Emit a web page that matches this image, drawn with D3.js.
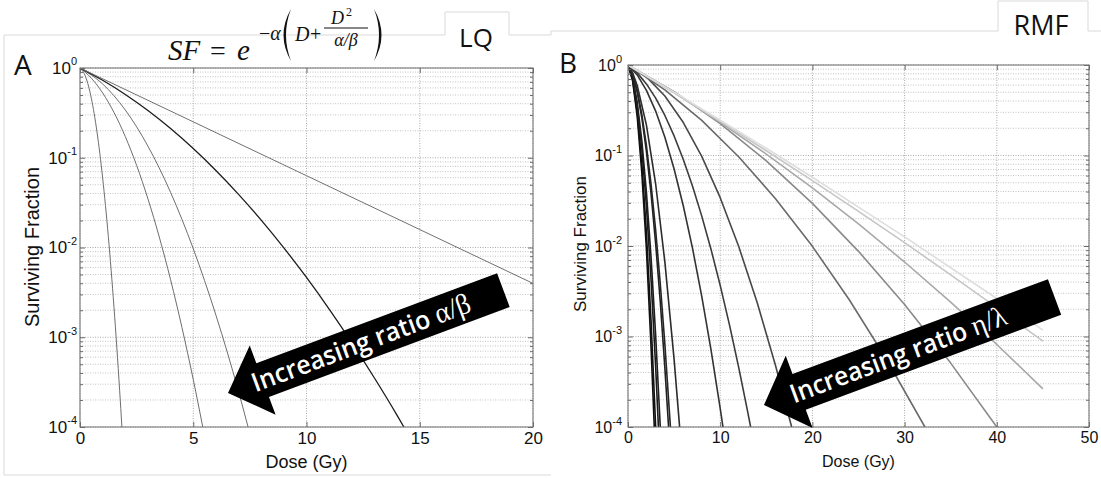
<!DOCTYPE html>
<html><head><meta charset="utf-8">
<script src="https://cdn.jsdelivr.net/npm/d3@7"></script>
<style>body{margin:0;background:#fff}svg{display:block}</style>
</head><body>
<svg id="c" width="1101" height="478"></svg>
<script>
// ---------- DATA (log10 of surviving fraction) ----------
const lqXTicks = [0, 5, 10, 15, 20];
const rmfXTicks = [0, 10, 20, 30, 40, 50];
const yTicks = [1e-4, 1e-3, 1e-2, 1e-1, 1];
const yTickExps = ['-4', '-3', '-2', '-1', '0'];

const lqDose1 = [0, 0.25, 0.5, 0.75, 1.0, 1.25, 1.5, 1.75, 1.85];
const lqLog1  = [0, -0.099, -0.337, -0.712, -1.225, -1.876, -2.664, -3.591, -4.0];
const lqDose2 = [0, 0.5, 1, 1.5, 2, 2.5, 3, 3.5, 4, 4.5, 5, 5.42];
const lqLog2  = [0, -0.113, -0.278, -0.495, -0.764, -1.085, -1.458, -1.883, -2.36, -2.89, -3.471, -4.0];
const lqDose3 = [0, 1, 2, 3, 4, 5, 6, 7, 7.42];
const lqLog3  = [0, -0.178, -0.468, -0.871, -1.386, -2.013, -2.753, -3.605, -4.0];
const lqDose4 = [0, 1, 2, 3, 4, 5, 6, 7, 8, 9, 10, 11, 12, 13, 14, 14.3];
const lqLog4  = [0, -0.137, -0.295, -0.474, -0.675, -0.898, -1.142, -1.408, -1.695, -2.004, -2.334, -2.686, -3.059, -3.454, -3.87, -4.0];
const lqDose5 = [0, 5, 10, 15, 20];
const lqLog5  = [0, -0.6, -1.2, -1.8, -2.4];

const rmfDose1 = [0, 0.5, 1, 1.5, 2, 2.5, 2.85];
const rmfLog1  = [0, -0.173, -0.570, -1.193, -2.042, -3.115, -4.0];
const rmfDose2 = [0, 0.5, 1, 1.5, 2, 2.5, 3];
const rmfLog2  = [0, -0.161, -0.524, -1.09, -1.858, -2.828, -4.0];
const rmfDose3 = [0, 0.5, 1, 1.5, 2, 2.5, 3, 3.3];
const rmfLog3  = [0, -0.143, -0.451, -0.925, -1.564, -2.369, -3.339, -4.0];
const rmfDose4 = [0, 0.5, 1, 1.5, 2, 2.5, 3, 3.5];
const rmfLog4  = [0, -0.133, -0.412, -0.837, -1.409, -2.126, -2.99, -4.0];
const rmfDose5 = [0, 0.5, 1, 1.5, 2, 2.5, 3, 3.5, 4, 4.4];
const rmfLog5  = [0, -0.105, -0.299, -0.583, -0.957, -1.421, -1.974, -2.616, -3.349, -4.0];
const rmfDose6 = [0, 0.5, 1, 1.5, 2, 2.5, 3, 3.5, 4, 4.6];
const rmfLog6  = [0, -0.101, -0.283, -0.547, -0.892, -1.319, -1.827, -2.417, -3.088, -4.0];
const rmfDose7 = [0, 0.5, 1, 2, 3, 4, 5, 5.6];
const rmfLog7  = [0, -0.087, -0.226, -0.664, -1.315, -2.178, -3.253, -4.0];
const rmfDose8 = [0, 1, 2, 3, 4, 5, 6, 7, 8, 9, 10, 10.3];
const rmfLog8  = [0, -0.11, -0.28, -0.509, -0.799, -1.149, -1.558, -2.027, -2.556, -3.145, -3.794, -4.0];
const rmfDose9 = [0, 1, 2, 3, 4, 5, 6, 7, 8, 9, 10, 11, 12, 13, 13.3];
const rmfLog9  = [0, -0.087, -0.209, -0.366, -0.558, -0.784, -1.045, -1.34, -1.67, -2.035, -2.435, -2.869, -3.338, -3.842, -4.0];
const rmfDose10 = [0, 2, 4, 6, 8, 10, 12, 14, 16, 17.75];
const rmfLog10  = [0, -0.131, -0.343, -0.636, -1.01, -1.466, -2.003, -2.621, -3.321, -4.0];
const rmfDose11 = [0, 4, 8, 12, 16, 20, 24, 28, 32.2];
const rmfLog11  = [0, -0.275, -0.612, -1.014, -1.477, -2.004, -2.594, -3.246, -4.0];
const rmfDose12 = [0, 5, 10, 15, 20, 25, 30, 35, 40];
const rmfLog12  = [0, -0.294, -0.647, -1.059, -1.529, -2.059, -2.646, -3.294, -4.0];
const rmfDose13 = [0, 5, 10, 15, 20, 25, 30, 35, 40, 45];
const rmfLog13  = [0, -0.305, -0.633, -0.984, -1.358, -1.756, -2.177, -2.621, -3.088, -3.579];
const rmfDose14 = [0, 5, 10, 15, 20, 25, 30, 35, 40, 45];
const rmfLog14  = [0, -0.308, -0.623, -0.947, -1.277, -1.617, -1.963, -2.319, -2.681, -3.052];
const rmfDose15 = [0, 5, 10, 15, 20, 25, 30, 35, 40, 45];
const rmfLog15  = [0, -0.30, -0.61, -0.92, -1.24, -1.57, -1.90, -2.24, -2.58, -2.93];

// ---------- STYLE ----------
const lqSeries = [
  {d: lqDose1, v: lqLog1, c: '#6e6e6e', w: 1},
  {d: lqDose2, v: lqLog2, c: '#6e6e6e', w: 1},
  {d: lqDose3, v: lqLog3, c: '#6e6e6e', w: 1},
  {d: lqDose4, v: lqLog4, c: '#1c1c1c', w: 1.3},
  {d: lqDose5, v: lqLog5, c: '#707070', w: 1}
];
const rmfSeries = [
  {d: rmfDose1, v: rmfLog1, c: '#111'}, {d: rmfDose2, v: rmfLog2, c: '#111'},
  {d: rmfDose3, v: rmfLog3, c: '#1a1a1a'}, {d: rmfDose4, v: rmfLog4, c: '#1e1e1e'},
  {d: rmfDose5, v: rmfLog5, c: '#222'}, {d: rmfDose6, v: rmfLog6, c: '#262626'},
  {d: rmfDose7, v: rmfLog7, c: '#2c2c2c'}, {d: rmfDose8, v: rmfLog8, c: '#333'},
  {d: rmfDose9, v: rmfLog9, c: '#3c3c3c'}, {d: rmfDose10, v: rmfLog10, c: '#474747'},
  {d: rmfDose11, v: rmfLog11, c: '#6a6a6a'}, {d: rmfDose12, v: rmfLog12, c: '#8a8a8a'},
  {d: rmfDose13, v: rmfLog13, c: '#a9a9a9'}, {d: rmfDose14, v: rmfLog14, c: '#c6c6c6'},
  {d: rmfDose15, v: rmfLog15, c: '#dedede'}
];

const svg = d3.select('#c');
const SANS = '"Liberation Sans", Arial, sans-serif';
const CAL = '"Open Sans", Lato, sans-serif';

// panel frames (light slide boxes)
svg.append('path')
  .attr('d', 'M4,475 L4,35 L445,35 L445,12 L509,12 L509,35 L551,35 L551,31 L998,31 L998,1 L1088,1 L1088,31 L1101,31')
  .attr('fill', 'none').attr('stroke', '#d9d9d9').attr('stroke-width', 1);
svg.append('line').attr('x1', 4).attr('x2', 551).attr('y1', 475).attr('y2', 475)
  .attr('stroke', '#d9d9d9');

const minorY = [];
for (let k = -4; k < 0; k++) for (let m = 2; m <= 9; m++) minorY.push(m * Math.pow(10, k));

function panel(o) {
  const x = d3.scaleLinear().domain(o.xDomain).range([o.x0, o.x1]);
  const y = d3.scaleLog().domain([1e-4, 1]).range([o.y1, o.y0]);
  const g = svg.append('g');
  const id = 'clip' + o.key;
  svg.append('clipPath').attr('id', id).append('rect')
    .attr('x', o.x0).attr('y', o.y0).attr('width', o.x1 - o.x0).attr('height', o.y1 - o.y0);

  // grid
  const grid = g.append('g').attr('fill', 'none');
  minorY.forEach(v => grid.append('line').attr('x1', o.x0).attr('x2', o.x1)
    .attr('y1', y(v)).attr('y2', y(v)).attr('stroke', '#c4c4c4').attr('stroke-dasharray', '1,1.5'));
  yTicks.forEach(v => grid.append('line').attr('x1', o.x0).attr('x2', o.x1)
    .attr('y1', y(v)).attr('y2', y(v)).attr('stroke', '#ababab').attr('stroke-dasharray', '1,1.5'));
  o.xTicks.forEach(v => grid.append('line').attr('x1', x(v)).attr('x2', x(v))
    .attr('y1', o.y0).attr('y2', o.y1).attr('stroke', '#ababab').attr('stroke-dasharray', '1,1.5'));

  // curves
  const line = d3.line().x(p => x(p[0])).y(p => y(Math.pow(10, p[1]))).curve(o.curve);
  const cg = g.append('g').attr('clip-path', `url(#${id})`);
  o.series.forEach(s => {
    const pts = s.d.map((d, i) => [d, s.v[i]]);
    cg.append('path').attr('d', line(pts)).attr('fill', 'none')
      .attr('stroke', s.c).attr('stroke-width', s.w || o.lw).attr('stroke-linejoin', 'round');
  });

  // axes with inward ticks (MATLAB style)
  const tickStyle = sel => { sel.select('.domain').remove(); sel.selectAll('.tick line').attr('stroke', '#6a6a6a'); };
  g.append('g').attr('transform', `translate(0,${o.y1})`)
    .call(d3.axisBottom(x).tickValues(o.xTicks).tickSize(-5).tickPadding(5).tickFormat(d3.format('d')))
    .call(tickStyle)
    .call(s => s.selectAll('text').attr('fill', '#111').style('font-family', SANS).style('font-size', o.tickFs + 'px'));
  g.append('g').attr('transform', `translate(0,${o.y0})`)
    .call(d3.axisTop(x).tickValues(o.xTicks).tickSize(-5).tickFormat('')).call(tickStyle);
  g.append('g').attr('transform', `translate(${o.x0},0)`)
    .call(d3.axisLeft(y).tickValues(yTicks).tickSize(-5).tickFormat('')).call(tickStyle);
  g.append('g').attr('transform', `translate(${o.x0},0)`)
    .call(d3.axisLeft(y).tickValues(minorY).tickSize(-3).tickFormat('')).call(tickStyle);
  g.append('g').attr('transform', `translate(${o.x1},0)`)
    .call(d3.axisRight(y).tickValues(yTicks).tickSize(-5).tickFormat('')).call(tickStyle);
  g.append('g').attr('transform', `translate(${o.x1},0)`)
    .call(d3.axisRight(y).tickValues(minorY).tickSize(-3).tickFormat('')).call(tickStyle);

  g.append('rect').attr('x', o.x0).attr('y', o.y0).attr('width', o.x1 - o.x0).attr('height', o.y1 - o.y0)
    .attr('fill', 'none').attr('stroke', '#6f6f6f').attr('stroke-width', 1);

  // y tick labels 10^k
  yTicks.forEach((v, i) => {
    const t = g.append('text').attr('x', o.yLabelX).attr('y', y(v)).attr('dy', '0.35em')
      .attr('text-anchor', 'end').attr('fill', '#111')
      .style('font-family', SANS).style('font-size', o.tickFs + 'px');
    t.append('tspan').text('10');
    t.append('tspan').attr('dy', -0.5 * o.tickFs).style('font-size', o.expFs + 'px').text(yTickExps[i]);
  });

  // axis titles
  g.append('text').attr('x', (o.x0 + o.x1) / 2 + o.xtDx).attr('y', o.xtY).attr('text-anchor', 'middle')
    .attr('fill', '#111').style('font-family', SANS).style('font-size', o.titleFs + 'px').text('Dose (Gy)');
  g.append('text').attr('transform', `translate(${o.ytX},${o.ytY}) rotate(-90)`).attr('dy', '0.35em')
    .attr('text-anchor', 'middle').attr('fill', '#111')
    .style('font-family', SANS).style('font-size', o.ytFs + 'px').text('Surviving Fraction');
  return {x, y};
}

panel({key: 'A', xDomain: [0, 20], x0: 80, x1: 533, y0: 68, y1: 427, xTicks: lqXTicks,
  series: lqSeries, curve: d3.curveMonotoneX, lw: 1, tickFs: 17, expFs: 11, yLabelX: 77,
  titleFs: 18, xtY: 468, xtDx: 0, ytX: 32, ytY: 247, ytFs: 20});
panel({key: 'B', xDomain: [0, 50], x0: 628, x1: 1089, y0: 65, y1: 427, xTicks: rmfXTicks,
  series: rmfSeries, curve: d3.curveLinear, lw: 1.6, tickFs: 16, expFs: 11, yLabelX: 622,
  titleFs: 16, xtY: 467, xtDx: 0, ytX: 580, ytY: 244, ytFs: 17});

// panel letters and model tags
svg.append('text').attr('x', 14).attr('y', 75).style('font-family', CAL).style('font-size', '28px').attr('fill', '#111').text('A');
svg.append('text').attr('x', 559).attr('y', 73).style('font-family', CAL).style('font-size', '28px').attr('fill', '#111').text('B');
svg.append('text').attr('x', 476).attr('y', 47).attr('text-anchor', 'middle').style('font-family', CAL).style('font-size', '26px').attr('fill', '#111').text('LQ');
svg.append('text').attr('x', 1041).attr('y', 35).attr('text-anchor', 'middle').style('font-family', CAL).style('font-size', '27px').attr('fill', '#111').text('RMF');

// formula SF = e^{-α(D + D^2/(α/β))}
const SERIF = '"Liberation Serif", "DejaVu Serif", serif';
const f = svg.append('g').attr('fill', '#111').style('font-family', SERIF);
f.append('text').attr('x', 168).attr('y', 60).style('font-style', 'italic').style('font-size', '29px').text('SF');
f.append('text').attr('x', 210).attr('y', 60).style('font-size', '28px').text('=');
f.append('text').attr('x', 237).attr('y', 60).style('font-style', 'italic').style('font-size', '29px').text('e');
f.append('text').attr('x', 259).attr('y', 40).style('font-size', '20px').text('\u2212').append('tspan').style('font-style', 'italic').text('\u03b1');
f.append('path').attr('d', 'M291,9 Q276,35 291,61 Q281,35 291,9 Z');
f.append('text').attr('x', 295).attr('y', 41).style('font-style', 'italic').style('font-size', '20px').text('D');
f.append('text').attr('x', 310).attr('y', 41).style('font-size', '20px').text('+');
f.append('text').attr('x', 331).attr('y', 24).style('font-style', 'italic').style('font-size', '18px').text('D');
f.append('text').attr('x', 346).attr('y', 16).style('font-size', '12px').text('2');
f.append('line').attr('x1', 324).attr('x2', 368).attr('y1', 28).attr('y2', 28).attr('stroke', '#111').attr('stroke-width', 1);
f.append('text').attr('x', 346).attr('y', 46).attr('text-anchor', 'middle').style('font-style', 'italic').style('font-size', '18px').text('\u03b1/\u03b2');
f.append('path').attr('d', 'M374,9 Q389,35 374,61 Q384,35 374,9 Z');

// arrows
function arrow(tipX, tipY, ang, L, sw, hw, hl, label, greek, textLen, center) {
  const a = svg.append('g').attr('transform', `translate(${tipX},${tipY}) rotate(${ang})`);
  a.append('path').attr('fill', '#000')
    .attr('d', `M0,0 L${hl},${-hw} L${hl},${-sw} L${L},${-sw} L${L},${sw} L${hl},${sw} L${hl},${hw} Z`);
  const tg = a.append('g').attr('transform', `translate(${center},9)`);
  const t = tg.append('text').attr('x', 0).attr('y', 0).attr('text-anchor', 'middle')
    .attr('fill', '#fff').style('font-family', CAL).style('font-weight', 600).style('font-size', '26px');
  t.append('tspan').text(label);
  t.append('tspan').style('font-family', SERIF).style('font-weight', 400).style('font-size', '29px').text(greek);
  const len = t.node().getComputedTextLength();
  tg.attr('transform', `translate(${center},9) scale(${textLen / len},1)`);
}
arrow(228, 393, -20.5, 294, 18, 37, 37, 'Increasing ratio ', '\u03b1/\u03b2', 232, 142);
arrow(764, 405, -20.4, 310, 19, 38.5, 37.5, 'Increasing ratio ', '\u03b7/\u03bb', 229, 143);
</script>
</body></html>
